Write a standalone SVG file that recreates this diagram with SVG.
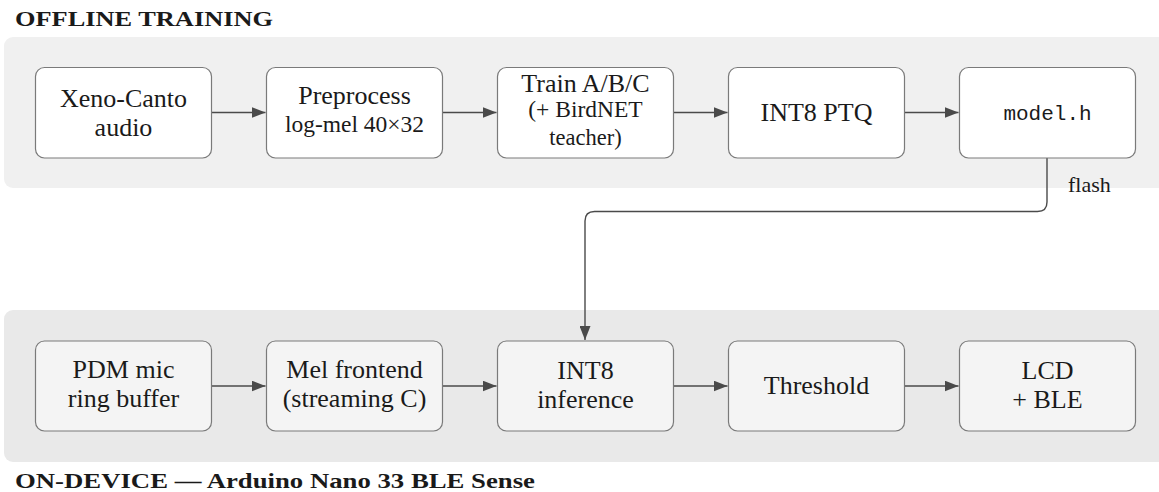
<svg xmlns="http://www.w3.org/2000/svg" width="1159" height="492" viewBox="0 0 1159 492">
  <style>
    .boxT { fill: #ffffff; stroke: #7a7a7a; stroke-width: 1.2; }
    .boxB { fill: #f4f4f4; stroke: #7a7a7a; stroke-width: 1.2; }
    .conn { fill: none; stroke: #4a4a4a; stroke-width: 1.4; }
  </style>
  <defs>
    <marker id="arr" markerWidth="14" markerHeight="11" refX="14" refY="5.5" orient="auto" markerUnits="userSpaceOnUse">
      <path d="M0,0 L14,5.5 L0,11 Z" fill="#4a4a4a"/>
    </marker>
  </defs>

  <!-- panels -->
  <g id="panel-offline">
    <rect x="4" y="37" width="1170" height="151" rx="9" fill="#f0f0f0"/>
    <text x="15" y="26" font-family="'Liberation Serif', 'DejaVu Serif', serif" font-weight="bold" font-size="22" fill="#1a1a1a" textLength="258" lengthAdjust="spacingAndGlyphs">OFFLINE TRAINING</text>
  </g>
  <g id="panel-device">
    <rect x="4" y="310" width="1170" height="152" rx="9" fill="#e9e9e9"/>
    <text x="15" y="488" font-family="'Liberation Serif', 'DejaVu Serif', serif" font-weight="bold" font-size="22" fill="#1a1a1a" textLength="520" lengthAdjust="spacingAndGlyphs">ON-DEVICE — Arduino Nano 33 BLE Sense</text>
  </g>

  <!-- connectors -->
  <g id="connectors">
    <line class="conn" x1="211.5" y1="112.5" x2="265.5" y2="112.5" marker-end="url(#arr)"/>
    <line class="conn" x1="442.5" y1="112.5" x2="496.5" y2="112.5" marker-end="url(#arr)"/>
    <line class="conn" x1="673.5" y1="112.5" x2="727.5" y2="112.5" marker-end="url(#arr)"/>
    <line class="conn" x1="904.5" y1="112.5" x2="958.5" y2="112.5" marker-end="url(#arr)"/>
    <line class="conn" x1="211.5" y1="386" x2="265.5" y2="386" marker-end="url(#arr)"/>
    <line class="conn" x1="442.5" y1="386" x2="496.5" y2="386" marker-end="url(#arr)"/>
    <line class="conn" x1="673.5" y1="386" x2="727.5" y2="386" marker-end="url(#arr)"/>
    <line class="conn" x1="904.5" y1="386" x2="958.5" y2="386" marker-end="url(#arr)"/>
    <path class="conn" d="M1047,158 L1047,202 Q1047,211.5 1037.5,211.5 L594.5,211.5 Q585,211.5 585,221 L585,340" marker-end="url(#arr)"/>
    <text x="1068" y="192" font-family="'Liberation Serif', 'DejaVu Serif', serif" font-size="22" fill="#1a1a1a">flash</text>
  </g>

  <g font-family="'Liberation Serif', 'DejaVu Serif', serif" font-size="26" fill="#1a1a1a" text-anchor="middle">
  <!-- top row nodes -->
  <g id="n-xeno">
    <rect class="boxT" x="35.5" y="67.5" width="176" height="90.5" rx="9"/>
    <text x="123.5" y="107">Xeno-Canto</text>
    <text x="123.5" y="136">audio</text>
  </g>
  <g id="n-preprocess">
    <rect class="boxT" x="266.5" y="67.5" width="176" height="90.5" rx="9"/>
    <text x="354.5" y="104">Preprocess</text>
    <text x="354.5" y="132" font-size="23.5">log-mel 40×32</text>
  </g>
  <g id="n-train">
    <rect class="boxT" x="497.5" y="67.5" width="176" height="90.5" rx="9"/>
    <text x="585.5" y="92">Train A/B/C</text>
    <text x="585.5" y="117" font-size="23.5">(+ BirdNET</text>
    <text x="585.5" y="145" font-size="22.5">teacher)</text>
  </g>
  <g id="n-ptq">
    <rect class="boxT" x="728.5" y="67.5" width="176" height="90.5" rx="9"/>
    <text x="816.5" y="121">INT8 PTQ</text>
  </g>
  <g id="n-model">
    <rect class="boxT" x="959.5" y="67.5" width="176" height="90.5" rx="9"/>
    <text x="1047.5" y="120" font-family="'Liberation Mono', 'DejaVu Sans Mono', monospace" font-size="21">model.h</text>
  </g>

  <!-- bottom row nodes -->
  <g id="n-pdm">
    <rect class="boxB" x="35.5" y="341" width="176" height="90" rx="9"/>
    <text x="123.5" y="378">PDM mic</text>
    <text x="123.5" y="407">ring buffer</text>
  </g>
  <g id="n-mel">
    <rect class="boxB" x="266.5" y="341" width="176" height="90" rx="9"/>
    <text x="354.5" y="378">Mel frontend</text>
    <text x="354.5" y="407">(streaming C)</text>
  </g>
  <g id="n-infer">
    <rect class="boxB" x="497.5" y="341" width="176" height="90" rx="9"/>
    <text x="585.5" y="379">INT8</text>
    <text x="585.5" y="408">inference</text>
  </g>
  <g id="n-thresh">
    <rect class="boxB" x="728.5" y="341" width="176" height="90" rx="9"/>
    <text x="816.5" y="394">Threshold</text>
  </g>
  <g id="n-out">
    <rect class="boxB" x="959.5" y="341" width="176" height="90" rx="9"/>
    <text x="1047.5" y="379">LCD</text>
    <text x="1047.5" y="408">+ BLE</text>
  </g>
  </g>
</svg>
